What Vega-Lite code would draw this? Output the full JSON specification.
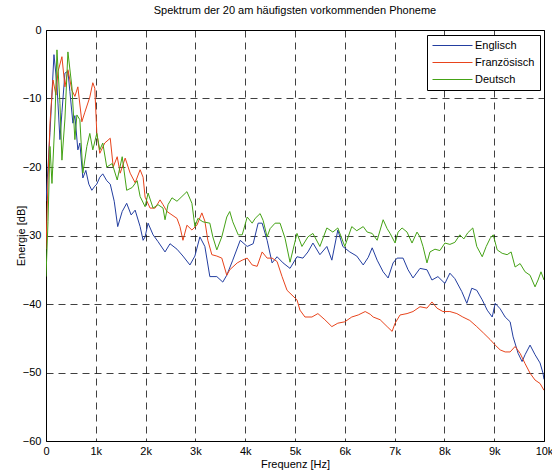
{
  "$schema": "https://vega.github.io/schema/vega-lite/v6.json",
  "autosize": {"type": "none"},
  "padding": {"left": 46, "top": 30, "right": 8, "bottom": 32},
  "width": 498,
  "height": 411,
  "background": "white",
  "title": {"text": "Spektrum der 20 am häufigsten vorkommenden Phoneme", "font": "Liberation Sans", "fontSize": 11, "fontWeight": "normal", "color": "#000", "offset": 8, "anchor": "middle"},
  "config": {
    "view": {"stroke": "#000", "strokeWidth": 1},
    "axis": {"labelFont": "Liberation Sans", "labelFontSize": 11, "labelColor": "#000", "titleFont": "Liberation Sans", "titleFontSize": 11, "titleFontWeight": "normal", "titleColor": "#000", "domain": false, "ticks": false, "grid": true, "gridColor": "#000", "gridOpacity": 0.75, "gridDash": [7, 5], "gridWidth": 1}
  },
  "data": {"values": [
    {"f":0,"e":-25,"lang":"Englisch"},{"f":80,"e":-15,"lang":"Englisch"},{"f":160,"e":-3.6,"lang":"Englisch"},{"f":220,"e":-8,"lang":"Englisch"},{"f":280,"e":-16,"lang":"Englisch"},{"f":320,"e":-12,"lang":"Englisch"},{"f":380,"e":-6.3,"lang":"Englisch"},{"f":440,"e":-6,"lang":"Englisch"},{"f":480,"e":-9,"lang":"Englisch"},{"f":540,"e":-13.6,"lang":"Englisch"},{"f":580,"e":-12.5,"lang":"Englisch"},{"f":640,"e":-17.5,"lang":"Englisch"},{"f":680,"e":-16.5,"lang":"Englisch"},{"f":740,"e":-21.6,"lang":"Englisch"},{"f":800,"e":-20.5,"lang":"Englisch"},{"f":860,"e":-22.5,"lang":"Englisch"},{"f":920,"e":-23.4,"lang":"Englisch"},{"f":980,"e":-22.8,"lang":"Englisch"},{"f":1020,"e":-22.5,"lang":"Englisch"},{"f":1080,"e":-21.5,"lang":"Englisch"},{"f":1140,"e":-21,"lang":"Englisch"},{"f":1220,"e":-22,"lang":"Englisch"},{"f":1290,"e":-22.5,"lang":"Englisch"},{"f":1370,"e":-25,"lang":"Englisch"},{"f":1440,"e":-28.7,"lang":"Englisch"},{"f":1530,"e":-26.5,"lang":"Englisch"},{"f":1620,"e":-25.3,"lang":"Englisch"},{"f":1710,"e":-27,"lang":"Englisch"},{"f":1790,"e":-26.3,"lang":"Englisch"},{"f":1890,"e":-28.7,"lang":"Englisch"},{"f":1950,"e":-30.7,"lang":"Englisch"},{"f":1990,"e":-30.2,"lang":"Englisch"},{"f":2050,"e":-28.2,"lang":"Englisch"},{"f":2150,"e":-29.9,"lang":"Englisch"},{"f":2250,"e":-30.9,"lang":"Englisch"},{"f":2390,"e":-32.4,"lang":"Englisch"},{"f":2490,"e":-31.2,"lang":"Englisch"},{"f":2630,"e":-32,"lang":"Englisch"},{"f":2750,"e":-33,"lang":"Englisch"},{"f":2890,"e":-34.3,"lang":"Englisch"},{"f":2990,"e":-33,"lang":"Englisch"},{"f":3090,"e":-30.2,"lang":"Englisch"},{"f":3190,"e":-31.6,"lang":"Englisch"},{"f":3290,"e":-36,"lang":"Englisch"},{"f":3430,"e":-36,"lang":"Englisch"},{"f":3550,"e":-36.8,"lang":"Englisch"},{"f":3630,"e":-35.8,"lang":"Englisch"},{"f":3750,"e":-33.6,"lang":"Englisch"},{"f":3900,"e":-30.7,"lang":"Englisch"},{"f":4040,"e":-31.6,"lang":"Englisch"},{"f":4160,"e":-31.2,"lang":"Englisch"},{"f":4260,"e":-28.2,"lang":"Englisch"},{"f":4340,"e":-28.2,"lang":"Englisch"},{"f":4440,"e":-30.7,"lang":"Englisch"},{"f":4540,"e":-34,"lang":"Englisch"},{"f":4640,"e":-33.1,"lang":"Englisch"},{"f":4760,"e":-34,"lang":"Englisch"},{"f":4900,"e":-34.8,"lang":"Englisch"},{"f":5040,"e":-33.1,"lang":"Englisch"},{"f":5160,"e":-33.3,"lang":"Englisch"},{"f":5260,"e":-32.4,"lang":"Englisch"},{"f":5360,"e":-31.1,"lang":"Englisch"},{"f":5500,"e":-32.8,"lang":"Englisch"},{"f":5640,"e":-31.6,"lang":"Englisch"},{"f":5740,"e":-33.6,"lang":"Englisch"},{"f":5860,"e":-29.2,"lang":"Englisch"},{"f":5960,"e":-31.6,"lang":"Englisch"},{"f":6100,"e":-32.4,"lang":"Englisch"},{"f":6240,"e":-33,"lang":"Englisch"},{"f":6370,"e":-34.3,"lang":"Englisch"},{"f":6470,"e":-33.2,"lang":"Englisch"},{"f":6550,"e":-31.8,"lang":"Englisch"},{"f":6650,"e":-33.6,"lang":"Englisch"},{"f":6770,"e":-35.3,"lang":"Englisch"},{"f":6870,"e":-36.2,"lang":"Englisch"},{"f":6970,"e":-34,"lang":"Englisch"},{"f":7050,"e":-33.3,"lang":"Englisch"},{"f":7170,"e":-33.3,"lang":"Englisch"},{"f":7270,"e":-35,"lang":"Englisch"},{"f":7370,"e":-36.2,"lang":"Englisch"},{"f":7510,"e":-34.8,"lang":"Englisch"},{"f":7650,"e":-35,"lang":"Englisch"},{"f":7750,"e":-36.5,"lang":"Englisch"},{"f":7870,"e":-36,"lang":"Englisch"},{"f":8010,"e":-37,"lang":"Englisch"},{"f":8110,"e":-35.5,"lang":"Englisch"},{"f":8210,"e":-36.3,"lang":"Englisch"},{"f":8350,"e":-38.2,"lang":"Englisch"},{"f":8450,"e":-39.9,"lang":"Englisch"},{"f":8550,"e":-37.7,"lang":"Englisch"},{"f":8650,"e":-38,"lang":"Englisch"},{"f":8760,"e":-39.4,"lang":"Englisch"},{"f":8860,"e":-40.9,"lang":"Englisch"},{"f":8960,"e":-41.9,"lang":"Englisch"},{"f":9020,"e":-39.9,"lang":"Englisch"},{"f":9120,"e":-40.7,"lang":"Englisch"},{"f":9220,"e":-41.9,"lang":"Englisch"},{"f":9320,"e":-42.6,"lang":"Englisch"},{"f":9380,"e":-44.8,"lang":"Englisch"},{"f":9480,"e":-47.2,"lang":"Englisch"},{"f":9560,"e":-48.4,"lang":"Englisch"},{"f":9620,"e":-47.4,"lang":"Englisch"},{"f":9720,"e":-46,"lang":"Englisch"},{"f":9820,"e":-47.4,"lang":"Englisch"},{"f":9920,"e":-48.6,"lang":"Englisch"},{"f":9980,"e":-50.1,"lang":"Englisch"},{"f":10000,"e":-51,"lang":"Englisch"},

    {"f":0,"e":-32,"lang":"Französisch"},{"f":40,"e":-22,"lang":"Französisch"},{"f":80,"e":-13.6,"lang":"Französisch"},{"f":140,"e":-7.3,"lang":"Französisch"},{"f":200,"e":-9.5,"lang":"Französisch"},{"f":240,"e":-6.1,"lang":"Französisch"},{"f":320,"e":-3.9,"lang":"Französisch"},{"f":380,"e":-8.3,"lang":"Französisch"},{"f":440,"e":-5.8,"lang":"Französisch"},{"f":520,"e":-8.8,"lang":"Französisch"},{"f":580,"e":-9.7,"lang":"Französisch"},{"f":640,"e":-8.3,"lang":"Französisch"},{"f":720,"e":-13.4,"lang":"Französisch"},{"f":780,"e":-12,"lang":"Französisch"},{"f":880,"e":-9.8,"lang":"Französisch"},{"f":940,"e":-7.7,"lang":"Französisch"},{"f":980,"e":-8.5,"lang":"Französisch"},{"f":1020,"e":-15,"lang":"Französisch"},{"f":1080,"e":-18,"lang":"Französisch"},{"f":1180,"e":-16.5,"lang":"Französisch"},{"f":1290,"e":-15.8,"lang":"Französisch"},{"f":1350,"e":-20,"lang":"Französisch"},{"f":1430,"e":-18.5,"lang":"Französisch"},{"f":1490,"e":-20.9,"lang":"Französisch"},{"f":1590,"e":-18.7,"lang":"Französisch"},{"f":1690,"e":-20.9,"lang":"Französisch"},{"f":1790,"e":-22.3,"lang":"Französisch"},{"f":1890,"e":-20.4,"lang":"Französisch"},{"f":1950,"e":-21.5,"lang":"Französisch"},{"f":1990,"e":-24.4,"lang":"Französisch"},{"f":2090,"e":-26,"lang":"Französisch"},{"f":2190,"e":-26,"lang":"Französisch"},{"f":2290,"e":-24.8,"lang":"Französisch"},{"f":2350,"e":-25.5,"lang":"Französisch"},{"f":2430,"e":-26.5,"lang":"Französisch"},{"f":2530,"e":-27,"lang":"Französisch"},{"f":2630,"e":-27.5,"lang":"Französisch"},{"f":2690,"e":-28.7,"lang":"Französisch"},{"f":2750,"e":-30.7,"lang":"Französisch"},{"f":2830,"e":-28.5,"lang":"Französisch"},{"f":2930,"e":-29.2,"lang":"Französisch"},{"f":3030,"e":-28.5,"lang":"Französisch"},{"f":3130,"e":-26.7,"lang":"Französisch"},{"f":3190,"e":-27.9,"lang":"Französisch"},{"f":3250,"e":-30.7,"lang":"Französisch"},{"f":3330,"e":-32.8,"lang":"Französisch"},{"f":3430,"e":-33,"lang":"Französisch"},{"f":3530,"e":-33.3,"lang":"Französisch"},{"f":3630,"e":-35.8,"lang":"Französisch"},{"f":3690,"e":-35,"lang":"Französisch"},{"f":3840,"e":-34,"lang":"Französisch"},{"f":3940,"e":-33.6,"lang":"Französisch"},{"f":4040,"e":-33.3,"lang":"Französisch"},{"f":4140,"e":-34.3,"lang":"Französisch"},{"f":4240,"e":-34.5,"lang":"Französisch"},{"f":4340,"e":-32.4,"lang":"Französisch"},{"f":4440,"e":-33.3,"lang":"Französisch"},{"f":4540,"e":-33.3,"lang":"Französisch"},{"f":4640,"e":-33.8,"lang":"Französisch"},{"f":4740,"e":-36,"lang":"Französisch"},{"f":4840,"e":-38,"lang":"Französisch"},{"f":4940,"e":-38.7,"lang":"Französisch"},{"f":5040,"e":-39.4,"lang":"Französisch"},{"f":5100,"e":-40.9,"lang":"Französisch"},{"f":5200,"e":-41.9,"lang":"Französisch"},{"f":5340,"e":-41.9,"lang":"Französisch"},{"f":5460,"e":-41.4,"lang":"Französisch"},{"f":5600,"e":-42.3,"lang":"Französisch"},{"f":5740,"e":-43.3,"lang":"Französisch"},{"f":5860,"e":-42.8,"lang":"Französisch"},{"f":6000,"e":-42.6,"lang":"Französisch"},{"f":6140,"e":-41.9,"lang":"Französisch"},{"f":6270,"e":-41.6,"lang":"Französisch"},{"f":6410,"e":-41.1,"lang":"Französisch"},{"f":6510,"e":-41.5,"lang":"Französisch"},{"f":6570,"e":-41.9,"lang":"Französisch"},{"f":6710,"e":-42.3,"lang":"Französisch"},{"f":6850,"e":-43.3,"lang":"Französisch"},{"f":6950,"e":-44,"lang":"Französisch"},{"f":7010,"e":-42.8,"lang":"Französisch"},{"f":7110,"e":-41.6,"lang":"Französisch"},{"f":7250,"e":-41.4,"lang":"Französisch"},{"f":7370,"e":-41.1,"lang":"Französisch"},{"f":7510,"e":-40.4,"lang":"Französisch"},{"f":7650,"e":-40.6,"lang":"Französisch"},{"f":7750,"e":-39.7,"lang":"Französisch"},{"f":7850,"e":-40.6,"lang":"Französisch"},{"f":7970,"e":-41.1,"lang":"Französisch"},{"f":8110,"e":-41.1,"lang":"Französisch"},{"f":8250,"e":-41.4,"lang":"Französisch"},{"f":8370,"e":-41.9,"lang":"Französisch"},{"f":8510,"e":-42.4,"lang":"Französisch"},{"f":8650,"e":-43.3,"lang":"Französisch"},{"f":8780,"e":-44.2,"lang":"Französisch"},{"f":8920,"e":-45.2,"lang":"Französisch"},{"f":9020,"e":-46,"lang":"Französisch"},{"f":9120,"e":-46.7,"lang":"Französisch"},{"f":9220,"e":-47,"lang":"Französisch"},{"f":9320,"e":-47,"lang":"Französisch"},{"f":9420,"e":-46.2,"lang":"Französisch"},{"f":9520,"e":-47.2,"lang":"Französisch"},{"f":9620,"e":-48.7,"lang":"Französisch"},{"f":9720,"e":-50.1,"lang":"Französisch"},{"f":9820,"e":-51.1,"lang":"Französisch"},{"f":9920,"e":-51.6,"lang":"Französisch"},{"f":10000,"e":-52.6,"lang":"Französisch"},

    {"f":0,"e":-36,"lang":"Deutsch"},{"f":40,"e":-28,"lang":"Deutsch"},{"f":80,"e":-17,"lang":"Deutsch"},{"f":120,"e":-22.4,"lang":"Deutsch"},{"f":180,"e":-13,"lang":"Deutsch"},{"f":220,"e":-2.9,"lang":"Deutsch"},{"f":280,"e":-10.7,"lang":"Deutsch"},{"f":320,"e":-19,"lang":"Deutsch"},{"f":380,"e":-13,"lang":"Deutsch"},{"f":440,"e":-3.2,"lang":"Deutsch"},{"f":520,"e":-8.3,"lang":"Deutsch"},{"f":580,"e":-16,"lang":"Deutsch"},{"f":620,"e":-12.4,"lang":"Deutsch"},{"f":680,"e":-13.1,"lang":"Deutsch"},{"f":740,"e":-20.9,"lang":"Deutsch"},{"f":820,"e":-17,"lang":"Deutsch"},{"f":880,"e":-15.1,"lang":"Deutsch"},{"f":940,"e":-17.5,"lang":"Deutsch"},{"f":1020,"e":-15.1,"lang":"Deutsch"},{"f":1080,"e":-17.5,"lang":"Deutsch"},{"f":1140,"e":-16.5,"lang":"Deutsch"},{"f":1220,"e":-20,"lang":"Deutsch"},{"f":1330,"e":-19.5,"lang":"Deutsch"},{"f":1430,"e":-21.9,"lang":"Deutsch"},{"f":1530,"e":-18.5,"lang":"Deutsch"},{"f":1620,"e":-23.4,"lang":"Deutsch"},{"f":1730,"e":-23,"lang":"Deutsch"},{"f":1830,"e":-22,"lang":"Deutsch"},{"f":1890,"e":-24.3,"lang":"Deutsch"},{"f":1990,"e":-25.8,"lang":"Deutsch"},{"f":2050,"e":-23.8,"lang":"Deutsch"},{"f":2150,"e":-26,"lang":"Deutsch"},{"f":2250,"e":-25.5,"lang":"Deutsch"},{"f":2350,"e":-26,"lang":"Deutsch"},{"f":2390,"e":-27.7,"lang":"Deutsch"},{"f":2450,"e":-25.5,"lang":"Deutsch"},{"f":2530,"e":-24.5,"lang":"Deutsch"},{"f":2630,"e":-25,"lang":"Deutsch"},{"f":2730,"e":-24.3,"lang":"Deutsch"},{"f":2830,"e":-23.6,"lang":"Deutsch"},{"f":2930,"e":-25.3,"lang":"Deutsch"},{"f":2990,"e":-28.7,"lang":"Deutsch"},{"f":3050,"e":-27.5,"lang":"Deutsch"},{"f":3150,"e":-28,"lang":"Deutsch"},{"f":3290,"e":-28.2,"lang":"Deutsch"},{"f":3350,"e":-30.2,"lang":"Deutsch"},{"f":3430,"e":-32.1,"lang":"Deutsch"},{"f":3530,"e":-30.2,"lang":"Deutsch"},{"f":3630,"e":-27.3,"lang":"Deutsch"},{"f":3690,"e":-26.5,"lang":"Deutsch"},{"f":3750,"e":-28,"lang":"Deutsch"},{"f":3860,"e":-29.9,"lang":"Deutsch"},{"f":3940,"e":-29.9,"lang":"Deutsch"},{"f":4040,"e":-27.3,"lang":"Deutsch"},{"f":4140,"e":-28.2,"lang":"Deutsch"},{"f":4200,"e":-27.5,"lang":"Deutsch"},{"f":4300,"e":-26.8,"lang":"Deutsch"},{"f":4360,"e":-27.8,"lang":"Deutsch"},{"f":4440,"e":-30.2,"lang":"Deutsch"},{"f":4500,"e":-29,"lang":"Deutsch"},{"f":4600,"e":-28.2,"lang":"Deutsch"},{"f":4700,"e":-28.2,"lang":"Deutsch"},{"f":4800,"e":-30.4,"lang":"Deutsch"},{"f":4900,"e":-33.9,"lang":"Deutsch"},{"f":4960,"e":-32.1,"lang":"Deutsch"},{"f":5040,"e":-29.7,"lang":"Deutsch"},{"f":5140,"e":-31.6,"lang":"Deutsch"},{"f":5260,"e":-30.2,"lang":"Deutsch"},{"f":5360,"e":-29.7,"lang":"Deutsch"},{"f":5500,"e":-31.6,"lang":"Deutsch"},{"f":5640,"e":-28.9,"lang":"Deutsch"},{"f":5760,"e":-29.5,"lang":"Deutsch"},{"f":5860,"e":-28.9,"lang":"Deutsch"},{"f":6000,"e":-31.6,"lang":"Deutsch"},{"f":6140,"e":-28.7,"lang":"Deutsch"},{"f":6240,"e":-29.3,"lang":"Deutsch"},{"f":6370,"e":-28.7,"lang":"Deutsch"},{"f":6450,"e":-29.5,"lang":"Deutsch"},{"f":6550,"e":-29.7,"lang":"Deutsch"},{"f":6650,"e":-30.7,"lang":"Deutsch"},{"f":6770,"e":-27.7,"lang":"Deutsch"},{"f":6850,"e":-29,"lang":"Deutsch"},{"f":6910,"e":-29.7,"lang":"Deutsch"},{"f":7010,"e":-31.1,"lang":"Deutsch"},{"f":7070,"e":-29.5,"lang":"Deutsch"},{"f":7150,"e":-28.9,"lang":"Deutsch"},{"f":7250,"e":-29.5,"lang":"Deutsch"},{"f":7350,"e":-31.1,"lang":"Deutsch"},{"f":7450,"e":-29.5,"lang":"Deutsch"},{"f":7510,"e":-30.2,"lang":"Deutsch"},{"f":7570,"e":-31.6,"lang":"Deutsch"},{"f":7650,"e":-34,"lang":"Deutsch"},{"f":7710,"e":-32.4,"lang":"Deutsch"},{"f":7810,"e":-32,"lang":"Deutsch"},{"f":7910,"e":-32.2,"lang":"Deutsch"},{"f":8010,"e":-31.1,"lang":"Deutsch"},{"f":8110,"e":-31.3,"lang":"Deutsch"},{"f":8210,"e":-31,"lang":"Deutsch"},{"f":8310,"e":-29.9,"lang":"Deutsch"},{"f":8390,"e":-30.5,"lang":"Deutsch"},{"f":8470,"e":-29.6,"lang":"Deutsch"},{"f":8570,"e":-28.9,"lang":"Deutsch"},{"f":8650,"e":-31.6,"lang":"Deutsch"},{"f":8760,"e":-33.1,"lang":"Deutsch"},{"f":8840,"e":-31.6,"lang":"Deutsch"},{"f":8920,"e":-30.4,"lang":"Deutsch"},{"f":8980,"e":-29.9,"lang":"Deutsch"},{"f":9060,"e":-32.1,"lang":"Deutsch"},{"f":9160,"e":-32.6,"lang":"Deutsch"},{"f":9260,"e":-32.8,"lang":"Deutsch"},{"f":9340,"e":-32.4,"lang":"Deutsch"},{"f":9420,"e":-34.6,"lang":"Deutsch"},{"f":9520,"e":-34.1,"lang":"Deutsch"},{"f":9620,"e":-35.3,"lang":"Deutsch"},{"f":9720,"e":-35.8,"lang":"Deutsch"},{"f":9820,"e":-37.5,"lang":"Deutsch"},{"f":9880,"e":-36.5,"lang":"Deutsch"},{"f":9940,"e":-35.3,"lang":"Deutsch"},{"f":10000,"e":-36.5,"lang":"Deutsch"}
  ]},
  "mark": {"type": "line", "strokeWidth": 1, "clip": true},
  "encoding": {
    "x": {"field": "f", "type": "quantitative", "title": "Frequenz [Hz]",
      "scale": {"domain": [0, 10000], "nice": false, "zero": false},
      "axis": {"values": [0,1000,2000,3000,4000,5000,6000,7000,8000,9000,10000], "labelExpr": "datum.value == 0 ? '0' : (datum.value/1000) + 'k'", "labelPadding": 4, "titlePadding": 2, "labelFlush": false}},
    "y": {"field": "e", "type": "quantitative", "title": "Energie [dB]",
      "scale": {"domain": [-60, 0], "nice": false, "zero": false},
      "axis": {"values": [-60,-50,-40,-30,-20,-10,0], "labelPadding": 5, "titlePadding": -4, "labelFlush": false}},
    "color": {"field": "lang", "type": "nominal",
      "scale": {"domain": ["Englisch", "Französisch", "Deutsch"], "range": ["#233ea0", "#e8441c", "#44a215"]},
      "legend": {"title": null, "orient": "none", "legendX": 381, "legendY": 5, "symbolType": "M-1,0H7", "symbolSize": 100, "symbolStrokeWidth": 1, "labelFont": "Liberation Sans", "labelFontSize": 11, "labelColor": "#000", "strokeColor": "#000", "fillColor": "white", "padding": 5, "rowPadding": 5, "labelOffset": 32}},
    "order": {"field": "f", "type": "quantitative"}
  }
}
